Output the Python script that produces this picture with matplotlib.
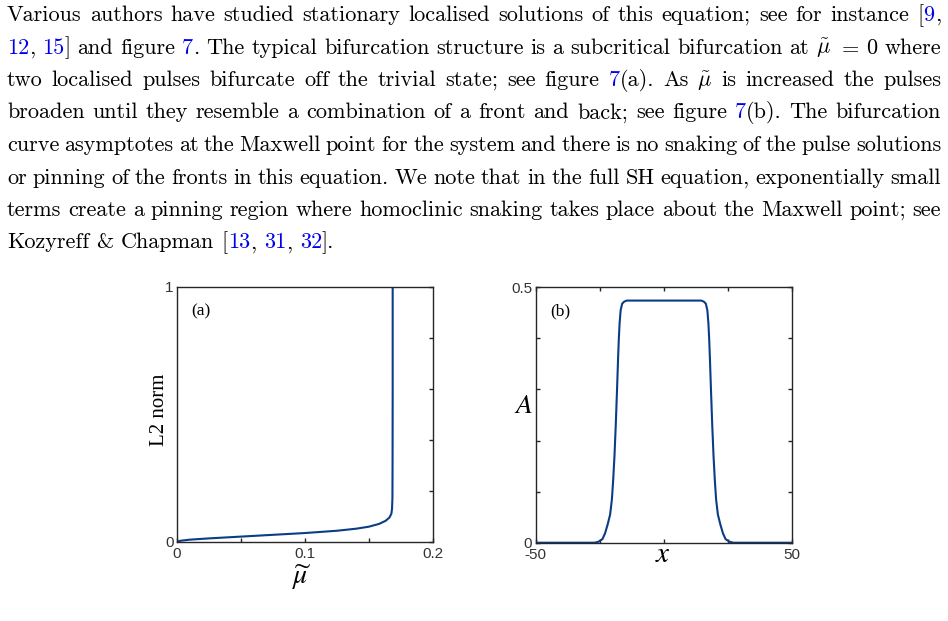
import re
import matplotlib
matplotlib.use('Agg')
import matplotlib.pyplot as plt

plt.rcParams['mathtext.fontset'] = 'cm'

# paragraph above the figure, @..@ marks the blue citation links
para_lines = [
    "Various authors have studied stationary localised solutions of this equation; see for instance [@9@,",
    "@12@, @15@] and figure @7@. The typical bifurcation structure is a subcritical bifurcation at $\\tilde{\\mu}$ $=$ 0 where",
    "two localised pulses bifurcate off the trivial state; see figure @7@(a). As $\\tilde{\\mu}$ is increased the pulses",
    "broaden until they resemble a combination of a front and back; see figure @7@(b). The bifurcation",
    "curve asymptotes at the Maxwell point for the system and there is no snaking of the pulse solutions",
    "or pinning of the fronts in this equation. We note that in the full SH equation, exponentially small",
    "terms create a pinning region where homoclinic snaking takes place about the Maxwell point; see",
    "Kozyreff & Chapman [@13@, @31@, @32@].",
]
link_color = '#0000ee'

# panel (a): bifurcation curve
mu_vals = [0, 0.003, 0.01, 0.025, 0.05, 0.075, 0.1, 0.125, 0.14, 0.15, 0.158,
           0.163, 0.166, 0.1675, 0.168, 0.1683, 0.1684, 0.1685, 0.1685]
l2_vals = [0, 0.004, 0.008, 0.013, 0.02, 0.027, 0.034, 0.043, 0.051, 0.059, 0.07,
           0.082, 0.095, 0.11, 0.13, 0.17, 0.3, 0.6, 1.0]

# panel (b): pulse profile
x_vals = [-50, -27, -25.5, -24, -23, -22, -21, -20.3, -19.8, -19.3, -18.8, -18.3,
          -17.9, -17.6, -17.3, -16.9, -16.3, -15.5, -14.5, 0, 14.5, 15.5, 16.3,
          16.9, 17.3, 17.6, 17.9, 18.3, 18.8, 19.3, 19.8, 20.3, 21, 22, 23, 24,
          25.5, 27, 50]
a_vals = [0, 0, 0.002, 0.007, 0.018, 0.035, 0.055, 0.085, 0.123, 0.17, 0.23, 0.3,
          0.36, 0.4, 0.43, 0.455, 0.468, 0.472, 0.474, 0.474, 0.474, 0.472, 0.468,
          0.455, 0.43, 0.4, 0.36, 0.3, 0.23, 0.17, 0.123, 0.085, 0.055, 0.035,
          0.018, 0.007, 0.002, 0, 0]

a_xticks = [0, 0.05, 0.1, 0.15, 0.2]
a_xlabels = ['0', '', '0.1', '', '0.2']
a_yticks = [0, 0.2, 0.4, 0.6, 0.8, 1]
a_ylabels = ['0', '', '', '', '', '1']
b_xticks = [-50, -25, 0, 25, 50]
b_xlabels = ['-50', '', '', '', '50']
b_yticks = [0, 0.1, 0.2, 0.3, 0.4, 0.5]
b_ylabels = ['0', '', '', '', '', '0.5']

W, H = 948, 621
fig = plt.figure(figsize=(W / 100, H / 100), dpi=100)
renderer = fig.canvas.get_renderer()


def px(x, y):
    return x / W, 1 - y / H


# justified paragraph
left, right = 7, 941
first_base, line_gap = 21, 32.5
fsize = 16
space_w = fsize * 100 / 72 * 0.333

for i, line in enumerate(para_lines):
    y = first_base + i * line_gap
    words = []
    for w in line.split(' '):
        pieces = []
        for seg in re.split(r'(@[^@]*@)', w):
            if not seg:
                continue
            col = 'black'
            if seg.startswith('@'):
                seg, col = seg.strip('@'), link_color
            t = fig.text(0, 0, seg, family='cmr10', fontsize=fsize, color=col,
                         ha='left', va='baseline')
            pieces.append((t, t.get_window_extent(renderer).width))
        words.append(pieces)
    widths = [sum(wd for _, wd in p) for p in words]
    if i == len(para_lines) - 1:
        gap = space_w
    else:
        gap = (right - left - sum(widths)) / (len(words) - 1)
    x = left
    for p, ww in zip(words, widths):
        for t, wd in p:
            t.set_position(px(x, y))
            x += wd
        x += gap

line_col = '#0b3c85'
frame_col = '#262626'
label_col = '#333333'


def style(ax):
    for s in ax.spines.values():
        s.set_color(frame_col)
        s.set_linewidth(1.0)
    ax.tick_params(direction='in', length=3, width=1, color=frame_col,
                   labelcolor=label_col, labelsize=11, pad=2.5)
    ax.tick_params(axis='x', pad=3.5)
    for lab in ax.get_xticklabels() + ax.get_yticklabels():
        lab.set_family('Liberation Sans')


# panel (a)
ax1 = fig.add_axes([177 / W, 1 - 541.7 / H, 256 / W, 255 / H])
ax1.plot(mu_vals, l2_vals, color=line_col, lw=1.5)
ax1.set_xlim(0, 0.2)
ax1.set_ylim(0, 1)
ax1.set_xticks(a_xticks, a_xlabels)
ax1.set_yticks(a_yticks, a_ylabels)
style(ax1)
ax1.tick_params(axis='y', left=False, right=True, labelleft=True)
ax1.text(0.055, 0.905, '(a)', transform=ax1.transAxes, family='Liberation Serif',
         fontsize=12.5, va='center')
fig.text(*px(160, 410), 'L2 norm', family='Liberation Serif', fontsize=15,
         rotation=90, ha='center', va='center')
fig.text(*px(302, 577), r'$\widetilde{\mu}$', math_fontfamily='stix', fontsize=20,
         ha='center', va='center')

# panel (b)
ax2 = fig.add_axes([535.7 / W, 1 - 542.7 / H, 256.6 / W, 255.4 / H])
ax2.plot(x_vals, a_vals, color=line_col, lw=1.5)
ax2.set_xlim(-50, 50)
ax2.set_ylim(0, 0.5)
ax2.set_xticks(b_xticks, b_xlabels)
ax2.set_yticks(b_yticks, b_ylabels)
style(ax2)
ax2.tick_params(top=True, right=True)
ax2.text(0.055, 0.905, '(b)', transform=ax2.transAxes, family='Liberation Serif',
         fontsize=12.5, va='center')
fig.text(*px(524, 405), r'$A$', math_fontfamily='stix', fontsize=20,
         ha='center', va='center')
fig.text(*px(663, 554), r'$x$', math_fontfamily='stix', fontsize=21,
         ha='center', va='center')

fig.savefig('out.png', dpi=100)
